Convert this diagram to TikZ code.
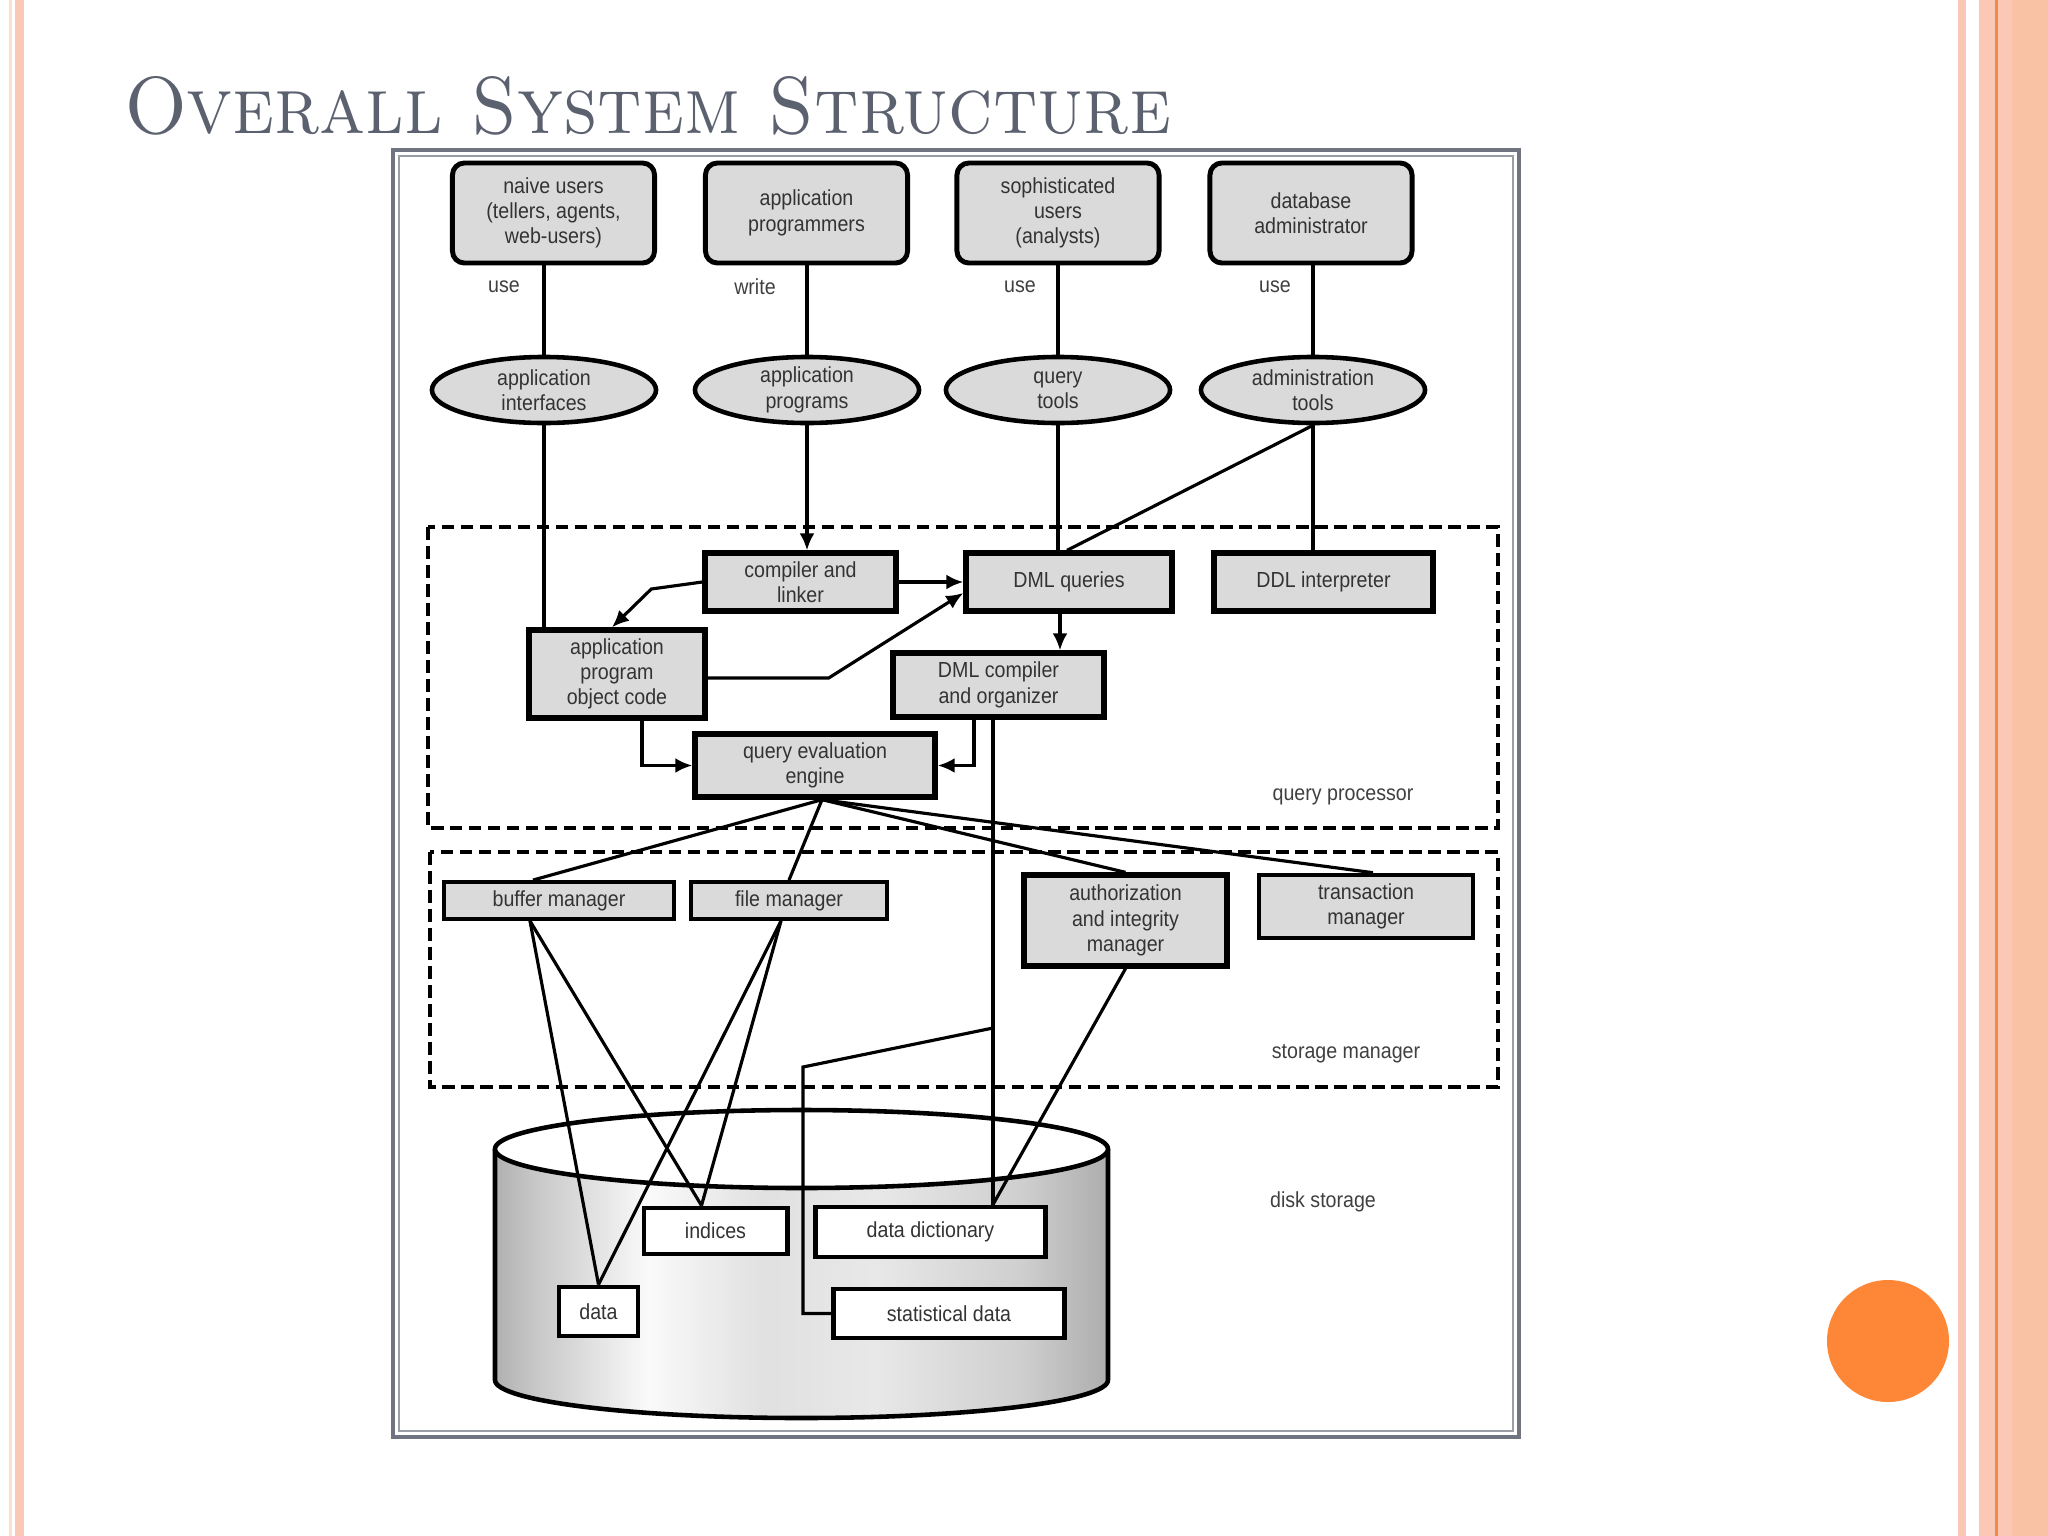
\documentclass[tikz,border=0pt]{standalone}
\usepackage{fontspec}
\usepackage{tikz}
\usetikzlibrary{arrows.meta,shapes.geometric}
\newfontfamily\diagfont[FakeStretch=0.9]{Liberation Sans}
\definecolor{titlegray}{RGB}{92,97,112}
\definecolor{boxgray}{RGB}{218,218,218}
\definecolor{framegray}{RGB}{112,115,128}
\definecolor{stripepink}{RGB}{250,200,180}
\definecolor{stripeline}{RGB}{240,138,75}
\definecolor{dotorange}{RGB}{253,135,55}
\pgfdeclarehorizontalshading{diskshade}{100bp}{color(0bp)=(gray!62); color(25bp)=(gray!62);
  color(28bp)=(gray!45); color(37.5bp)=(gray!4); color(47bp)=(gray!24); color(56bp)=(gray!18);
  color(68bp)=(gray!38); color(75bp)=(gray!64); color(100bp)=(gray!64)}

\begin{document}
\begin{tikzpicture}[
  x=0.01cm, y=-0.01cm,
  font={\diagfont\fontsize{6.2pt}{7.2pt}\selectfont},
  user/.style={draw, line width=1.4pt, rounded corners=0.12cm, fill=boxgray, text=black!80,
    minimum width=2.02cm, minimum height=1cm, align=center, inner sep=0pt},
  tool/.style={ellipse, draw, line width=1.3pt, fill=boxgray, text=black!80,
    minimum width=2.24cm, minimum height=0.66cm, align=center, inner sep=0pt},
  proc/.style={draw, line width=1.5pt, fill=boxgray, text=black!80, align=center, inner sep=0pt},
  store/.style={draw, line width=1.1pt, fill=boxgray, text=black!80, align=center, inner sep=0pt},
  disk/.style={draw, line width=1.4pt, fill=white, text=black!80, align=center, inner sep=0pt},
  region/.style={draw, line width=1.2pt, dash pattern=on 3.6pt off 1.8pt},
  lbl/.style={text=black!75, inner sep=0pt},
  link/.style={line width=0.9pt},
  arr/.style={-{Latex[length=1.7mm,width=1.5mm]}, line width=0.9pt}
]
\useasboundingbox (0,0) rectangle (2048,1536);
\fill[white] (0,0) rectangle (2048,1536);

% slide decoration
\fill[stripepink!60] (9,0) rectangle (12,1536);
\fill[stripepink] (15,0) rectangle (24,1536);
\fill[stripepink] (1958,0) rectangle (1966,1536);
\fill[stripepink] (1979,0) rectangle (2048,1536);
\fill[stripepink!92!orange] (2012,0) rectangle (2048,1536);
\fill[stripeline] (1995,0) rectangle (1997.5,1536);
\fill[dotorange] (1888,1341) circle[radius=61];

\node[anchor=base west, inner sep=0pt, text=titlegray,
  font={\rmfamily\fontsize{23pt}{28pt}\selectfont}] (title) at (124,133)
  {\scalebox{0.93}[1]{\textsc{Overall System Structure}}};

% figure frame
\draw[framegray, line width=1.1pt] (393,150) rectangle (1519,1437);
\draw[framegray!70, line width=0.6pt] (399,156) rectangle (1513,1431);

% processor and storage regions
\draw[region] (428,527) rectangle (1498,828);
\draw[region] (430,852) rectangle (1498,1087);
\node[lbl] (qplbl) at (1343,797) {query processor};
\node[lbl] (smlbl) at (1346,1054) {storage manager};
\node[lbl] (dslbl) at (1323,1202) {disk storage};

% disk
\shade[shading=diskshade] (495,1149) -- (495,1380)
  arc[start angle=180, end angle=0, x radius=306.5, y radius=38] -- (1108,1149) -- cycle;
\draw[line width=1.3pt] (495,1149) -- (495,1380)
  arc[start angle=180, end angle=0, x radius=306.5, y radius=38] -- (1108,1149);
\draw[line width=1.3pt, fill=white] (801.5,1149) ellipse[x radius=306.5, y radius=39];

% users
\node[user] (naive) at (553.5,213) {naive users\\(tellers, agents,\\web-users)};
\node[user] (aprog) at (806.5,213) {application\\programmers};
\node[user] (soph) at (1058,213) {sophisticated\\users\\(analysts)};
\node[user] (dba) at (1311,213) {database\\administrator};
\node[lbl] (use1) at (504,287) {use};
\node[lbl] (write) at (755,287) {write};
\node[lbl] (use2) at (1020,287) {use};
\node[lbl] (use3) at (1275,287) {use};

% tools
\node[tool] (ifc) at (544,390) {application\\interfaces};
\node[tool] (apgm) at (807,390) {application\\programs};
\node[tool] (qtool) at (1058,390) {query\\tools};
\node[tool] (atool) at (1313,390) {administration\\tools};

% query processor
\node[proc, minimum width=1.91cm, minimum height=0.58cm] (cmpl) at (800.5,582) {compiler and\\linker};
\node[proc, minimum width=2.06cm, minimum height=0.58cm] (dmlq) at (1069,582) {DML queries};
\node[proc, minimum width=2.19cm, minimum height=0.58cm] (ddl) at (1323.5,582) {DDL interpreter};
\node[proc, minimum width=1.76cm, minimum height=0.88cm] (obj) at (617,674) {application\\program\\object code};
\node[proc, minimum width=2.11cm, minimum height=0.64cm] (dmlc) at (998.5,685) {DML compiler\\and organizer};
\node[proc, minimum width=2.40cm, minimum height=0.63cm] (qeng) at (815,765.5) {query evaluation\\engine};

% storage manager
\node[store, minimum width=2.30cm, minimum height=0.37cm] (bufm) at (559,900.5) {buffer manager};
\node[store, minimum width=1.96cm, minimum height=0.37cm] (filem) at (789,900.5) {file manager};
\node[proc, minimum width=2.03cm, minimum height=0.91cm] (authm) at (1125.5,920.5) {authorization\\and integrity\\manager};
\node[store, line width=1.3pt, minimum width=2.14cm, minimum height=0.63cm] (trxm) at (1366,906.5) {transaction\\manager};

% disk contents
\node[disk, minimum width=1.43cm, minimum height=0.46cm] (idx) at (715.5,1231) {indices};
\node[disk, minimum width=2.29cm, minimum height=0.50cm] (ddict) at (930.5,1232) {data dictionary};
\node[disk, minimum width=0.79cm, minimum height=0.49cm] (dat) at (598.5,1311.5) {data};
\node[disk, minimum width=2.30cm, minimum height=0.49cm] (stat) at (949,1313.5) {statistical data};

% users to tools
\draw[link] (naive.south -| ifc.north) -- (ifc.north);
\draw[link] (aprog.south -| apgm.north) -- (apgm.north);
\draw[link] (soph.south -| qtool.north) -- (qtool.north);
\draw[link] (dba.south -| atool.north) -- (atool.north);

% tools to query processor
\draw[link] (ifc.south) -- (ifc.south |- obj.north);
\draw[arr] (apgm.south) -- (apgm.south |- cmpl.north);
\draw[link] (qtool.south) -- (qtool.south |- dmlq.north);
\draw[link] (atool.south) -- ([xshift=-0.02cm]dmlq.north);
\draw[link] (atool.south) -- (atool.south |- ddl.north);

% inside query processor
\draw[arr] (cmpl.east) -- (dmlq.west);
\draw[arr] (cmpl.west) -- ++(-51,7) -- ([xshift=-0.05cm]obj.north);
\draw[arr] ([yshift=-0.04cm]obj.east) -- ++(121,0) -- ([yshift=-0.11cm]dmlq.west);
\coordinate (dq) at ([xshift=-0.09cm]dmlq.south);
\draw[arr] (dq) -- (dq |- dmlc.north);
\draw[arr] ([xshift=0.25cm]obj.south) |- (qeng.west);
\draw[arr] ([xshift=-0.245cm]dmlc.south) |- (qeng.east);

% dictionary line
\coordinate (dl) at ([xshift=-0.055cm]dmlc.south);
\draw[link] (dl) -- (dl |- ddict.north);
\coordinate (br) at (dl |- 0,1028);
\draw[link] (br) -- (803,1067) |- (stat.west);

% query evaluation engine to storage manager
\coordinate (qe) at ([xshift=0.07cm]qeng.south);
\draw[link] (qe) -- ([xshift=-0.26cm]bufm.north);
\draw[link] (qe) -- (filem.north);
\draw[link] (qe) -- (authm.north);
\draw[link] (qe) -- ([xshift=0.07cm]trxm.north);

% storage manager to disk
\draw[link] ([xshift=-0.29cm]bufm.south) -- (dat.north);
\draw[link] ([xshift=-0.29cm]bufm.south) -- ([xshift=-0.14cm]idx.north);
\draw[link] ([xshift=-0.08cm]filem.south) -- (dat.north);
\draw[link] ([xshift=-0.08cm]filem.south) -- ([xshift=-0.14cm]idx.north);
\draw[link] (authm.south) -- (dl |- ddict.north);
\end{tikzpicture}
\end{document}
